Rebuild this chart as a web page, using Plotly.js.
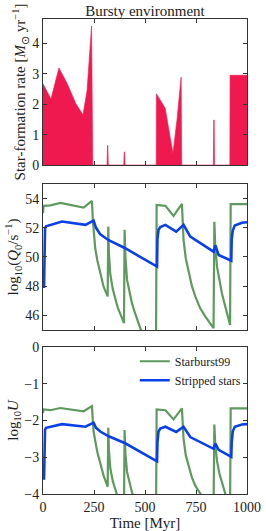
<!DOCTYPE html>
<html>
<head>
<meta charset="utf-8">
<script src="https://cdn.plot.ly/plotly-3.0.1.min.js"></script>
<style>
html,body{margin:0;padding:0;background:#fff;}
#chart{width:266px;height:531px;}
</style>
</head>
<body>
<div id="chart"></div>
<script>
// Star-formation rate (top panel)
const sfrTime = [0, 39, 78, 118, 160, 196, 216, 238, 244, 314, 316, 318, 320, 396, 398, 400, 402, 555, 556, 599, 616, 637, 657, 677, 680, 835, 837, 839, 841, 916, 917, 1000];
const sfrValue = [2.67, 2.17, 3.19, 2.69, 2.03, 1.65, 2.45, 4.57, 0, 0, 0.64, 0.64, 0, 0, 0.43, 0.43, 0, 0, 2.34, 1.87, 1.2, 0.39, 1.5, 2.89, 0, 0, 1.48, 1.48, 0, 0, 2.95, 2.95];

// log10(Q0) (middle panel)
const qSbTime = [0, 3, 36, 85, 199, 240, 244, 248, 256, 266, 280, 297, 317, 320, 323, 330, 342, 354, 366, 379, 397, 400, 404, 412, 424, 436, 450, 461, 477, 490, 554, 557, 600, 640, 681, 685, 689, 700, 714, 730, 747, 770, 796, 815, 836, 840, 844, 853, 865, 877, 890, 902, 917, 920, 1000];
const qSbValue = [53.0, 53.5, 53.54, 53.7, 53.38, 53.84, 52.6, 51.8, 50.6, 49.8, 48.9, 47.97, 47.3, 52.08, 50.3, 48.8, 47.8, 47.06, 46.55, 46.1, 45.47, 51.86, 50.0, 48.43, 47.5, 46.84, 46.2, 45.7, 45.0, 44.6, 44.2, 53.57, 53.5, 52.82, 53.64, 52.4, 51.17, 49.9, 48.89, 48.0, 47.29, 46.5, 45.92, 45.5, 45.12, 52.42, 50.9, 49.34, 48.3, 47.52, 46.8, 46.15, 45.35, 53.62, 53.62];
const qStTime = [5, 7, 10, 15, 36, 93, 208, 248, 260, 281, 322, 403, 559, 561, 566, 575, 600, 653, 689, 722, 836, 845, 861, 923, 925, 930, 940, 975, 1000];
const qStValue = [47.87, 51.2, 51.97, 52.1, 52.2, 52.43, 52.2, 52.5, 52.0, 51.55, 51.15, 50.6, 49.34, 51.2, 51.85, 52.05, 52.2, 51.74, 52.2, 51.4, 50.37, 50.8, 50.14, 49.75, 51.2, 51.8, 52.15, 52.35, 52.38];

// log10(U) (bottom panel)
const uSbTime = [0, 3, 36, 85, 199, 240, 244, 248, 256, 266, 280, 297, 317, 320, 323, 330, 342, 354, 366, 379, 397, 400, 404, 412, 424, 436, 450, 461, 480, 554, 557, 600, 640, 681, 685, 689, 700, 714, 730, 747, 770, 796, 836, 840, 844, 853, 865, 877, 890, 902, 917, 920, 1000];
const uSbValue = [-1.8, -1.7, -1.72, -1.66, -1.75, -1.61, -2.0, -2.3, -2.55, -2.85, -3.15, -3.5, -3.8, -2.2, -2.8, -3.3, -3.65, -3.9, -4.08, -4.2, -4.4, -2.26, -2.9, -3.4, -3.72, -3.95, -4.15, -4.3, -4.5, -4.6, -1.7, -1.72, -1.97, -1.67, -2.1, -2.5, -2.95, -3.25, -3.55, -3.78, -4.0, -4.2, -4.45, -2.11, -2.6, -3.1, -3.45, -3.7, -3.95, -4.15, -4.4, -1.67, -1.67];
const uStTime = [5, 7, 10, 15, 36, 93, 208, 248, 260, 281, 322, 403, 559, 561, 566, 575, 600, 653, 689, 722, 836, 845, 861, 923, 925, 930, 940, 975, 1000];
const uStValue = [-3.61, -2.6, -2.25, -2.2, -2.17, -2.1, -2.17, -2.06, -2.2, -2.3, -2.43, -2.62, -3.11, -2.6, -2.3, -2.22, -2.17, -2.31, -2.17, -2.45, -2.77, -2.63, -2.8, -2.99, -2.6, -2.3, -2.17, -2.11, -2.1];

const timeTicks = [0, 250, 500, 750, 1000];
const labels = {sb: 'Starburst99', st: 'Stripped stars'};

const red = '#f0194f';
const green = '#5e9a5e';
const blue = '#0b3fe8';
const font = 'Liberation Serif, Times New Roman, serif';

const traces = [
  {x: sfrTime, y: sfrValue, xaxis: 'x', yaxis: 'y', type: 'scatter', mode: 'lines',
   fill: 'tozeroy', fillcolor: red, line: {color: red, width: 0.6}, showlegend: false, hoverinfo: 'skip'},
  {x: qSbTime, y: qSbValue, xaxis: 'x2', yaxis: 'y2', type: 'scatter', mode: 'lines',
   line: {color: green, width: 2.2}, showlegend: false},
  {x: qStTime, y: qStValue, xaxis: 'x2', yaxis: 'y2', type: 'scatter', mode: 'lines',
   line: {color: blue, width: 2.6}, showlegend: false},
  {x: uSbTime, y: uSbValue, xaxis: 'x3', yaxis: 'y3', type: 'scatter', mode: 'lines',
   line: {color: green, width: 2.2}, name: labels.sb},
  {x: uStTime, y: uStValue, xaxis: 'x3', yaxis: 'y3', type: 'scatter', mode: 'lines',
   line: {color: blue, width: 2.6}, name: labels.st}
];

function xax(anchor, showLabels, title) {
  const a = {
    anchor: anchor, range: [0, 1000], tickvals: timeTicks, ticktext: timeTicks.map(String),
    showticklabels: showLabels, ticks: 'inside', ticklen: 4, tickcolor: '#333',
    showline: true, linecolor: '#333', linewidth: 1, mirror: 'ticks',
    showgrid: false, zeroline: false, tickfont: {family: font, size: 14, color: '#222'},
    domain: [0, 1]
  };
  if (title) a.title = {text: title, font: {family: font, size: 15, color: '#222'}, standoff: 2};
  return a;
}
function yax(anchor, range, ticks, domain, title, standoff) {
  return {
    anchor: anchor, range: range, tickvals: ticks, domain: domain,
    ticks: 'inside', ticklen: 4, tickcolor: '#333',
    showline: true, linecolor: '#333', linewidth: 1, mirror: 'ticks',
    showgrid: false, zeroline: false, tickfont: {family: font, size: 14, color: '#222'},
    title: {text: title, font: {family: font, size: 15, color: '#222'}, standoff: standoff}
  };
}

const layout = {
  width: 266, height: 531,
  margin: {l: 43, r: 19, t: 19, b: 37},
  paper_bgcolor: '#fff', plot_bgcolor: '#fff',
  font: {family: font, color: '#222'},
  title: {text: 'Bursty environment', font: {family: font, size: 15, color: '#222'},
          x: 0.545, xanchor: 'center', y: 0.979, yanchor: 'middle'},
  xaxis: xax('y', false),
  yaxis: yax('x', [0, 4.8], [0, 1, 2, 3, 4], [0.6926, 1], 'Star-formation rate [<i>M</i><sub>⊙</sub> yr<sup>−1</sup>]', 2),
  xaxis2: xax('y2', false),
  yaxis2: yax('x2', [45, 55], [46, 48, 50, 52, 54], [0.3453, 0.6526], 'log<sub>10</sub>(<i>Q</i><sub>0</sub>/s<sup>−1</sup>)', 2),
  xaxis3: xax('y3', true, 'Time [Myr]'),
  yaxis3: yax('x3', [-4, 0], [-4, -3, -2, -1, 0], [0, 0.3095], 'log<sub>10</sub><i>U</i>', 2),
  showlegend: true,
  legend: {x: 0.45, y: 0.31, xanchor: 'left', yanchor: 'top', bgcolor: 'rgba(0,0,0,0)',
           font: {family: font, size: 12, color: '#222'}, tracegroupgap: 0, itemwidth: 30},
  hovermode: false
};

Plotly.newPlot('chart', traces, layout, {staticPlot: true, displayModeBar: false});
</script>
</body>
</html>
